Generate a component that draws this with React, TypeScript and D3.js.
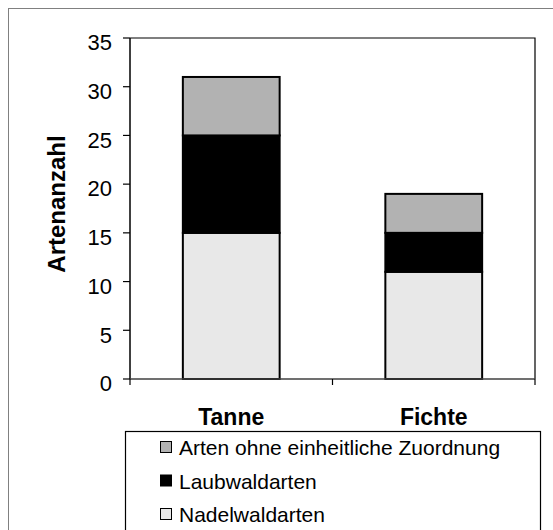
import React from "react";
import * as d3 from "d3";

const categories = ["Tanne", "Fichte"];
const seriesNames = ["Nadelwaldarten", "Laubwaldarten", "Arten ohne einheitliche Zuordnung"];
const nadelwald = [15, 11];
const laubwald = [10, 4];
const ohneZuordnung = [6, 4];
const seriesColors = ["#e8e8e8", "#000000", "#b2b2b2"];
const yTicks = [0, 5, 10, 15, 20, 25, 30, 35];
const yLabel = "Artenanzahl";

const W = 553, H = 530;
const plot = { left: 130, right: 535, top: 38, bottom: 379 };
const FONT = "'Liberation Sans', Arial, sans-serif";

export default function App() {
  const x = d3.scaleBand<string>().domain(categories).range([plot.left, plot.right]).paddingInner(0.522).paddingOuter(0.261);
  const y = d3.scaleLinear().domain([0, 35]).range([plot.bottom, plot.top]);
  const rows = categories.map((c, i) => ({ cat: c, n: nadelwald[i], l: laubwald[i], o: ohneZuordnung[i] }));
  const stacked = d3.stack<any>().keys(["n", "l", "o"])(rows);
  const legendOrder = [2, 1, 0];
  const legendRowsY = [447.5, 481, 514.5];
  const catCenters = categories.map((c) => (x(c) as number) + x.bandwidth() / 2);
  const mid = (plot.left + plot.right) / 2;

  return (
    <svg width={W} height={H} style={{ display: "block", position: "absolute", left: 0, top: 0 }} fontFamily={FONT}>
      <rect x={0} y={0} width={W} height={H} fill="#fff" />
      <rect x={8.5} y={8.5} width={W + 10} height={H + 10} fill="none" stroke="#808080" strokeWidth={1} />
      {/* plot frame */}
      <path d={`M${plot.left},${plot.top}H${plot.right}V${plot.bottom}`} fill="none" stroke="#000" strokeWidth={1.2} />
      {/* bars */}
      {stacked.map((s, si) =>
        s.map((d, i) => (
          <rect
            key={`${si}-${i}`}
            x={x(categories[i]) as number}
            y={y(d[1])}
            width={x.bandwidth()}
            height={y(d[0]) - y(d[1])}
            fill={seriesColors[si]}
            stroke="#000"
            strokeWidth={2}
          />
        ))
      )}
      {/* y axis */}
      <line x1={plot.left} x2={plot.left} y1={plot.top} y2={plot.bottom} stroke="#000" strokeWidth={1.5} />
      {yTicks.map((t) => (
        <g key={t}>
          <line x1={plot.left - 7} x2={plot.left} y1={y(t)} y2={y(t)} stroke="#000" strokeWidth={1.2} />
          <text x={plot.left - 18} y={y(t)} dy="0.56em" textAnchor="end" fontSize={22} fill="#000">{t}</text>
        </g>
      ))}
      {/* x axis */}
      <line x1={plot.left} x2={plot.right} y1={plot.bottom} y2={plot.bottom} stroke="#404040" strokeWidth={1.5} />
      {[plot.left, mid, plot.right].map((px, i) => (
        <line key={i} x1={px} x2={px} y1={plot.bottom} y2={plot.bottom + 6} stroke="#000" strokeWidth={1.2} />
      ))}
      {categories.map((c, i) => (
        <text key={c} x={catCenters[i]} y={425} textAnchor="middle" fontSize={23} fontWeight="bold" fill="#000">{c}</text>
      ))}
      {/* y label */}
      <text transform={`translate(65,204) rotate(-90)`} textAnchor="middle" fontSize={24} fontWeight="bold" fill="#000">{yLabel}</text>
      {/* legend */}
      <rect x={125.5} y={431.5} width={415} height={120} fill="#fff" stroke="#000" strokeWidth={1.2} />
      {legendOrder.map((si, k) => (
        <g key={si}>
          <rect x={160.5} y={legendRowsY[k] - 6} width={11} height={11} fill={seriesColors[si]} stroke="#000" strokeWidth={1} />
          <text x={179} y={legendRowsY[k]} dy="0.36em" fontSize={21} fill="#000">{seriesNames[si]}</text>
        </g>
      ))}
    </svg>
  );
}
